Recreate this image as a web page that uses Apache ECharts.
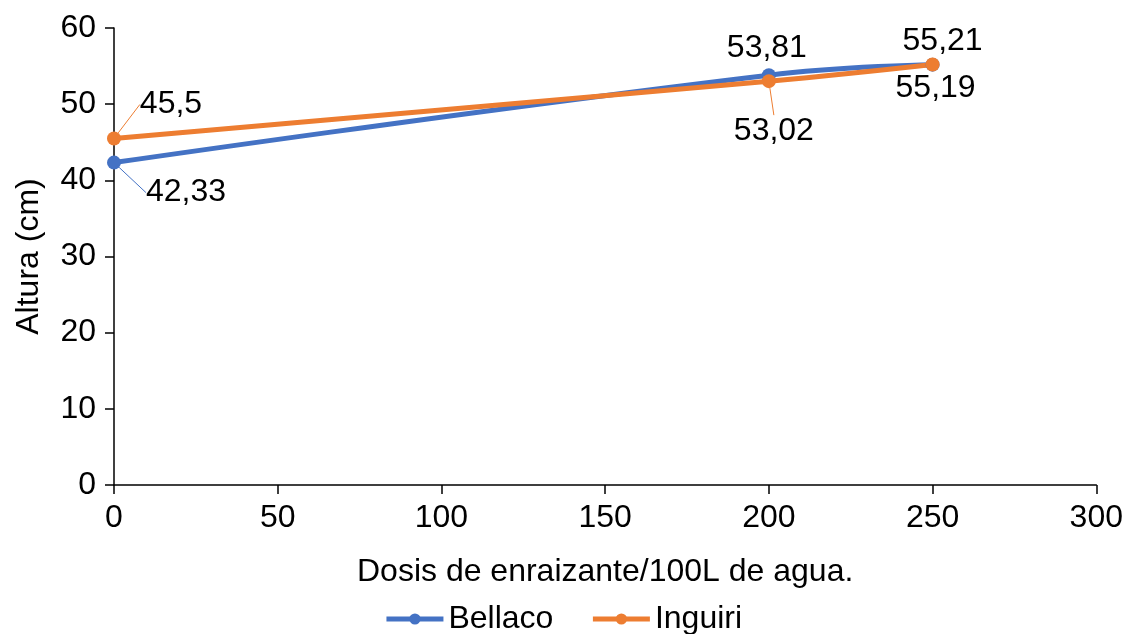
<!DOCTYPE html>
<html><head><meta charset="utf-8">
<script src="https://cdn.jsdelivr.net/npm/echarts@6/dist/echarts.min.js"></script>
<style>html,body{margin:0;padding:0;background:#fff}#c{width:1126px;height:634px}</style>
</head><body><div id="c"></div>
<script>
const doses = [0, 200, 250];
const bellaco = [42.33, 53.81, 55.19];
const inguiri = [45.5, 53.02, 55.21];
const seriesNames = ['Bellaco', 'Inguiri'];
const xTicks = [0, 50, 100, 150, 200, 250, 300];
const yTicks = [0, 10, 20, 30, 40, 50, 60];

const font = 'Liberation Sans, Arial, sans-serif';
const FS = 32;
const fmt = v => String(v).replace('.', ',');
// label displacement per point (pixels) and whether a leader line is shown
const bellacoLab = [{dx: 72, dy: 30, line: true}, {dx: -2, dy: -27, line: false}, {dx: 3, dy: 24, line: false}];
const inguiriLab = [{dx: 57, dy: -34, line: true}, {dx: 5, dy: 50, line: true}, {dx: 10, dy: -23, line: false}];

function mk(name, vals, color, lab) {
  return {
    name, type: 'line', smooth: 0.45,
    data: doses.map((d, i) => ({value: [d, vals[i]], labelLine: {show: lab[i].line}})),
    symbol: 'circle', symbolSize: 14,
    lineStyle: {width: 5, color},
    itemStyle: {color},
    label: {show: true, position: 'inside', fontFamily: font, fontSize: FS, color: '#000',
      formatter: p => fmt(p.value[1])},
    labelLine: {show: true, lineStyle: {color, width: 1}, smooth: false},
    labelLayout: p => ({dx: lab[p.dataIndex].dx, dy: lab[p.dataIndex].dy}),
    emphasis: {disabled: true}
  };
}

const chart = echarts.init(document.getElementById('c'));
chart.setOption({
  animation: false,
  grid: {left: 114, right: 28, top: 28, bottom: 149, containLabel: false},
  legend: {
    top: 598, left: 'center', itemWidth: 57, itemHeight: 14, itemGap: 37,
    textStyle: {fontFamily: font, fontSize: FS, color: '#000', padding: [0, 0, 0, 0]},
    lineStyle: {width: 5},
    data: seriesNames
  },
  xAxis: {
    type: 'value', min: 0, max: 300, interval: 50,
    name: 'Dosis de enraizante/100L de agua.', nameLocation: 'middle', nameGap: 71,
    nameTextStyle: {fontFamily: font, fontSize: FS, color: '#000'},
    axisLine: {lineStyle: {color: '#000', width: 1.5}},
    axisTick: {show: true, length: 9, lineStyle: {color: '#000', width: 1.5}},
    axisLabel: {fontFamily: font, fontSize: FS, color: '#000', margin: 17,
      formatter: v => xTicks.includes(v) ? String(v) : ''},
    splitLine: {show: false}
  },
  yAxis: {
    type: 'value', min: 0, max: 60, interval: 10,
    name: 'Altura (cm)', nameLocation: 'middle', nameGap: 69,
    nameTextStyle: {fontFamily: font, fontSize: FS, color: '#000'},
    axisLine: {show: true, lineStyle: {color: '#000', width: 1.5}},
    axisTick: {show: true, length: 9, lineStyle: {color: '#000', width: 1.5}},
    axisLabel: {fontFamily: font, fontSize: FS, color: '#000', margin: 18,
      formatter: v => yTicks.includes(v) ? String(v) : ''},
    splitLine: {show: false}
  },
  series: [
    mk(seriesNames[0], bellaco, '#4472C4', bellacoLab),
    mk(seriesNames[1], inguiri, '#ED7D31', inguiriLab)
  ]
});
</script></body></html>
